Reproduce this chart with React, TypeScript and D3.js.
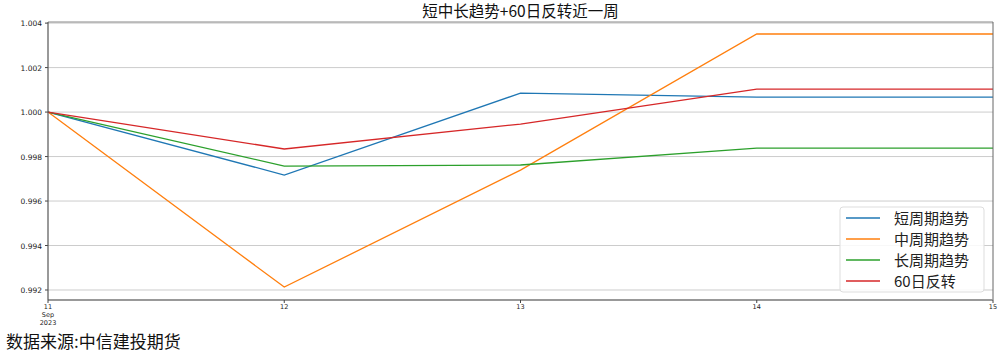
import React from "react";
import * as d3 from "d3";

const dates = ["11", "12", "13", "14", "15"];
const seriesNames = ["短周期趋势", "中周期趋势", "长周期趋势", "60日反转"];
const shortTrend = [1.0, 0.99717, 1.00085, 1.00067, 1.00067];
const midTrend = [1.0, 0.99213, 0.99739, 1.00351, 1.00351];
const longTrend = [1.0, 0.99757, 0.99762, 0.99838, 0.99838];
const reversal60 = [1.0, 0.99834, 0.99946, 1.00103, 1.00103];
const yTicks = [0.992, 0.994, 0.996, 0.998, 1.0, 1.002, 1.004];
const colors = ["#1f77b4", "#ff7f0e", "#2ca02c", "#d62728"];

const W = 1003, H = 354;
const L = 48, R = 993, T = 22, B = 300;
const font = "'Noto Sans CJK SC', 'DejaVu Sans', sans-serif";
const tickFont = "'DejaVu Sans', sans-serif";

export default function App() {
  const x = d3.scaleLinear().domain([0, dates.length - 1]).range([L, R]);
  const y = d3.scaleLinear().domain([0.99155, 1.00405]).range([B, T]);
  const all = [shortTrend, midTrend, longTrend, reversal60];
  const line = d3.line<number>().x((_, i) => x(i)).y((d) => y(d));
  return (
    <svg width={W} height={H} style={{ position: "absolute", left: 0, top: 0, background: "#fff" }}>
      <text x={(L + R) / 2} y={17} textAnchor="middle" fontSize={15.5} fontFamily={font} fill="#111">短中长趋势+60日反转近一周</text>
      {yTicks.map((t) => (
        <g key={t}>
          <line x1={L} x2={R} y1={y(t)} y2={y(t)} stroke="#cccccc" strokeWidth={1} />
          <line x1={L - 3} x2={L} y1={y(t)} y2={y(t)} stroke="#444" />
          <text x={L - 6} y={y(t) + 3} textAnchor="end" fontSize={7.5} fontFamily={tickFont} fill="#222">{t.toFixed(3)}</text>
        </g>
      ))}
      {all.map((s, i) => (
        <path key={i} d={line(s) || ""} fill="none" stroke={colors[i]} strokeWidth={1.3} />
      ))}
      <line x1={L} x2={R} y1={T} y2={T} stroke="#888" strokeWidth={1} />
      <line x1={R} x2={R} y1={T} y2={B} stroke="#666" strokeWidth={1} />
      <line x1={L} x2={R} y1={B} y2={B} stroke="#999" strokeWidth={2} />
      <line x1={L} x2={L} y1={T} y2={B} stroke="#555" strokeWidth={1.2} />
      {dates.map((d, i) => (
        <g key={d}>
          <line x1={x(i)} x2={x(i)} y1={B} y2={B + 3} stroke="#444" />
          <text x={x(i)} y={B + 9} textAnchor="middle" fontSize={6.5} fontFamily={tickFont} fill="#222">{d}</text>
        </g>
      ))}
      <text x={x(0)} y={B + 16.5} textAnchor="middle" fontSize={6.5} fontFamily={tickFont} fill="#222">Sep</text>
      <text x={x(0)} y={B + 24.5} textAnchor="middle" fontSize={6.5} fontFamily={tickFont} fill="#222">2023</text>
      <rect x={840} y={207} width={144} height={85} rx={3} fill="#fff" fillOpacity={0.85} stroke="#ddd" />
      {seriesNames.map((n, i) => (
        <g key={n}>
          <line x1={846} x2={880} y1={218 + i * 21} y2={218 + i * 21} stroke={colors[i]} strokeWidth={1.3} />
          <text x={894} y={224 + i * 21} fontSize={15} fontFamily={font} fill="#222">{n}</text>
        </g>
      ))}
      <text x={6} y={348} fontSize={17} fontFamily={font} fill="#111">数据来源:中信建投期货</text>
    </svg>
  );
}
